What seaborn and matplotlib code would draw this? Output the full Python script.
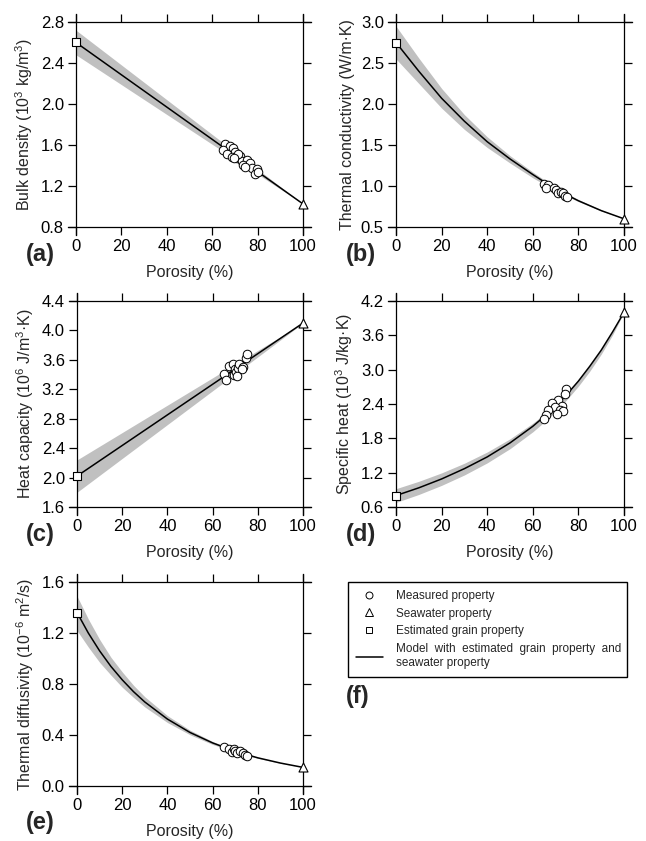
import matplotlib
matplotlib.use('Agg')
import matplotlib.pyplot as plt
from matplotlib.lines import Line2D
from matplotlib.ticker import FormatStrFormatter
import seaborn as sns

sns.set_theme(style='ticks')
plt.rcParams['font.family'] = ['Liberation Sans', 'DejaVu Sans']
plt.rcParams['mathtext.fontset'] = 'custom'
plt.rcParams['mathtext.rm'] = 'Liberation Sans'
plt.rcParams['mathtext.it'] = 'Liberation Sans:italic'
plt.rcParams['mathtext.default'] = 'regular'

# ---- data ----
porosity_ticks = [0, 20, 40, 60, 80, 100]
phi_lin = [0, 100]
phi_10 = [0, 10, 20, 30, 40, 50, 60, 70, 80, 90, 100]

# (a) bulk density, 10^3 kg/m^3
dens_grain = 2.60
dens_water = 1.025
dens_model = [2.60, 1.025]
dens_hi = [2.72, 1.025]
dens_lo = [2.48, 1.025]
dens_phi = [65.6, 67.8, 64.9, 69.3, 70.0, 66.4, 68.6, 70.8, 72.2, 73.0,
            75.2, 73.7, 76.7, 77.4, 79.6, 78.9, 80.3, 71.2, 69.4, 74.6]
dens_val = [1.61, 1.59, 1.55, 1.57, 1.53, 1.51, 1.48, 1.47, 1.49, 1.44,
            1.45, 1.40, 1.42, 1.38, 1.37, 1.32, 1.34, 1.51, 1.47, 1.39]

# (b) thermal conductivity, W/m K
cond_grain = 2.75
cond_water = 0.60
cond_model = [2.75, 2.40, 2.07, 1.79, 1.54, 1.33, 1.14, 0.96, 0.82, 0.70, 0.60]
cond_hi = [2.95, 2.56, 2.19, 1.87, 1.60, 1.37, 1.17, 0.98, 0.835, 0.71, 0.60]
cond_lo = [2.55, 2.25, 1.95, 1.69, 1.47, 1.28, 1.10, 0.94, 0.81, 0.695, 0.60]
cond_phi = [65.0, 66.5, 65.8, 69.3, 70.2, 71.0, 72.3, 73.2, 74.3, 74.8]
cond_val = [1.02, 1.01, 0.97, 0.97, 0.95, 0.91, 0.93, 0.91, 0.88, 0.87]

# (c) heat capacity, 10^6 J/m^3 K
heat_grain = 2.02
heat_water = 4.10
heat_model = [2.02, 4.10]
heat_hi = [2.24, 4.10]
heat_lo = [1.80, 4.10]
heat_phi = [65.2, 66.1, 67.1, 68.9, 69.8, 69.3, 70.4, 71.1, 71.5, 73.5,
            73.0, 74.8, 75.2, 70.8]
heat_val = [3.41, 3.33, 3.51, 3.55, 3.47, 3.39, 3.43, 3.49, 3.55, 3.50,
            3.48, 3.62, 3.68, 3.38]

# (d) specific heat, 10^3 J/kg K
phi_spec = [0, 10, 20, 30, 40, 50, 60, 65, 70, 75, 80, 85, 90, 95, 100]
spec_grain = 0.80
spec_water = 4.00
spec_model = [0.80, 0.935, 1.09, 1.27, 1.475, 1.72, 2.01, 2.18, 2.36,
              2.57, 2.80, 3.06, 3.34, 3.66, 4.00]
spec_hi = [0.92, 1.049, 1.196, 1.365, 1.561, 1.791, 2.065, 2.222, 2.396,
           2.588, 2.815, 3.07, 3.35, 3.665, 4.00]
spec_lo = [0.68, 0.819, 0.978, 1.160, 1.371, 1.619, 1.914, 2.084, 2.271,
           2.479, 2.712, 2.974, 3.270, 3.608, 4.00]
spec_phi = [74.4, 74.0, 71.1, 68.6, 73.0, 69.6, 66.7, 71.8, 73.3, 70.4, 65.6, 64.9]
spec_val = [2.66, 2.58, 2.47, 2.41, 2.36, 2.34, 2.29, 2.29, 2.28, 2.22, 2.20, 2.13]

# (e) thermal diffusivity, 10^-6 m^2/s
phi_diff = [0, 5, 10, 15, 20, 25, 30, 40, 50, 60, 70, 80, 90, 100]
diff_grain = 1.36
diff_water = 0.15
diff_model = [1.361, 1.200, 1.060, 0.938, 0.833, 0.740, 0.659, 0.525, 0.420,
              0.338, 0.272, 0.221, 0.180, 0.146]
diff_hi = [1.49, 1.31, 1.15, 1.01, 0.895, 0.79, 0.70, 0.552, 0.438, 0.349,
           0.279, 0.224, 0.181, 0.146]
diff_lo = [1.22, 1.09, 0.97, 0.87, 0.775, 0.695, 0.62, 0.498, 0.402, 0.326,
           0.266, 0.217, 0.178, 0.146]
diff_phi = [65.2, 67.1, 68.6, 69.4, 70.1, 70.8, 72.0, 73.5, 74.5, 75.0]
diff_val = [0.302, 0.287, 0.268, 0.287, 0.274, 0.260, 0.276, 0.260, 0.242, 0.234]

W, H = 646, 841
fig = plt.figure(figsize=(W / 100, H / 100), dpi=100)

TICK_PX = 8
BAND = '#c0c0c0'


def panel(rect, phi, model, lo, hi, mphi, mval, grain, water, ylim, yticks, ylabel):
    left, top, right, bottom = rect
    ax = fig.add_axes([left / W, 1 - bottom / H, (right - left) / W, (bottom - top) / H])
    ax.fill_between(phi, lo, hi, color=BAND, lw=0, zorder=1)
    sns.lineplot(x=phi, y=model, ax=ax, color='black', lw=1.1, zorder=2)
    sns.scatterplot(x=mphi, y=mval, ax=ax, marker='o', s=38, color='white',
                    edgecolor='black', linewidth=0.7, zorder=3, clip_on=False)
    sns.scatterplot(x=[0], y=[grain], ax=ax, marker='s', s=40, color='white',
                    edgecolor='black', linewidth=0.8, zorder=4, clip_on=False)
    sns.scatterplot(x=[100], y=[water], ax=ax, marker='^', s=42, color='white',
                    edgecolor='black', linewidth=0.8, zorder=4, clip_on=False)
    ax.set_xlim(0, 100)
    ax.set_ylim(*ylim)
    ax.set_xticks(porosity_ticks)
    ax.set_yticks(yticks)
    ax.yaxis.set_major_formatter(FormatStrFormatter('%.1f'))
    ax.tick_params(direction='out', length=TICK_PX * 0.72, width=0.9, colors='black',
                   top=True, right=True, labeltop=False, labelright=False,
                   labelsize=12, pad=3)
    ax.set_xlabel('Porosity (%)', fontsize=11.5, labelpad=8)
    ax.set_ylabel(ylabel, fontsize=11.5, labelpad=4)
    # frame lines run past the corners by a tick length
    ex = TICK_PX / (right - left) * 100
    ey = TICK_PX / (bottom - top) * (ylim[1] - ylim[0])
    for side in ['top', 'bottom']:
        ax.spines[side].set_bounds(-ex, 100 + ex)
    for side in ['left', 'right']:
        ax.spines[side].set_bounds(ylim[0] - ey, ylim[1] + ey)
    for sp in ax.spines.values():
        sp.set_color('black')
        sp.set_linewidth(0.9)
    return ax


panel((76, 22, 303, 227), phi_lin, dens_model, dens_lo, dens_hi, dens_phi, dens_val,
      dens_grain, dens_water, (0.8, 2.8), [0.8, 1.2, 1.6, 2.0, 2.4, 2.8],
      r'Bulk density (10$^3$ kg/m$^3$)')
panel((396, 22, 624, 227), phi_10, cond_model, cond_lo, cond_hi, cond_phi, cond_val,
      cond_grain, cond_water, (0.5, 3.0), [0.5, 1.0, 1.5, 2.0, 2.5, 3.0],
      'Thermal conductivity (W/m·K)')
panel((77, 301, 303, 507), phi_lin, heat_model, heat_lo, heat_hi, heat_phi, heat_val,
      heat_grain, heat_water, (1.6, 4.4), [1.6, 2.0, 2.4, 2.8, 3.2, 3.6, 4.0, 4.4],
      r'Heat capacity (10$^6$ J/m$^3$·K)')
panel((396, 301, 624, 507), phi_spec, spec_model, spec_lo, spec_hi, spec_phi, spec_val,
      spec_grain, spec_water, (0.6, 4.2), [0.6, 1.2, 1.8, 2.4, 3.0, 3.6, 4.2],
      r'Specific heat (10$^3$ J/kg·K)')
panel((77, 582, 303, 786), phi_diff, diff_model, diff_lo, diff_hi, diff_phi, diff_val,
      diff_grain, diff_water, (0.0, 1.6), [0.0, 0.4, 0.8, 1.2, 1.6],
      r'Thermal diffusivity (10$^{-6}$ m$^2$/s)')

for tag, x, y in [('(a)', 26, 254), ('(b)', 346, 254), ('(c)', 26, 534),
                  ('(d)', 346, 534), ('(e)', 26, 823), ('(f)', 346, 697)]:
    fig.text(x / W, 1 - y / H, tag, fontsize=17, fontweight='bold',
             ha='left', va='center')

handles = [
    Line2D([], [], ls='none', marker='o', ms=5, mfc='white', mec='black', mew=0.7),
    Line2D([], [], ls='none', marker='^', ms=5.5, mfc='white', mec='black', mew=0.7),
    Line2D([], [], ls='none', marker='s', ms=5, mfc='white', mec='black', mew=0.7),
    Line2D([], [], color='black', lw=1.1),
]
labels = ['Measured property', 'Seawater property', 'Estimated grain property',
          'Model  with  estimated  grain  property  and\nseawater property']
leg = fig.legend(handles, labels, loc='upper left',
                 bbox_to_anchor=(348 / W, 1 - 678 / H, (627 - 348) / W, (678 - 582) / H),
                 mode='expand', borderaxespad=0, fontsize=8.5, frameon=True,
                 fancybox=False, edgecolor='black', framealpha=1,
                 handlelength=2.3, handletextpad=1.1, labelspacing=0.5,
                 borderpad=0.65)
leg.get_frame().set_linewidth(1.0)

fig.savefig('out.png', dpi=100)
